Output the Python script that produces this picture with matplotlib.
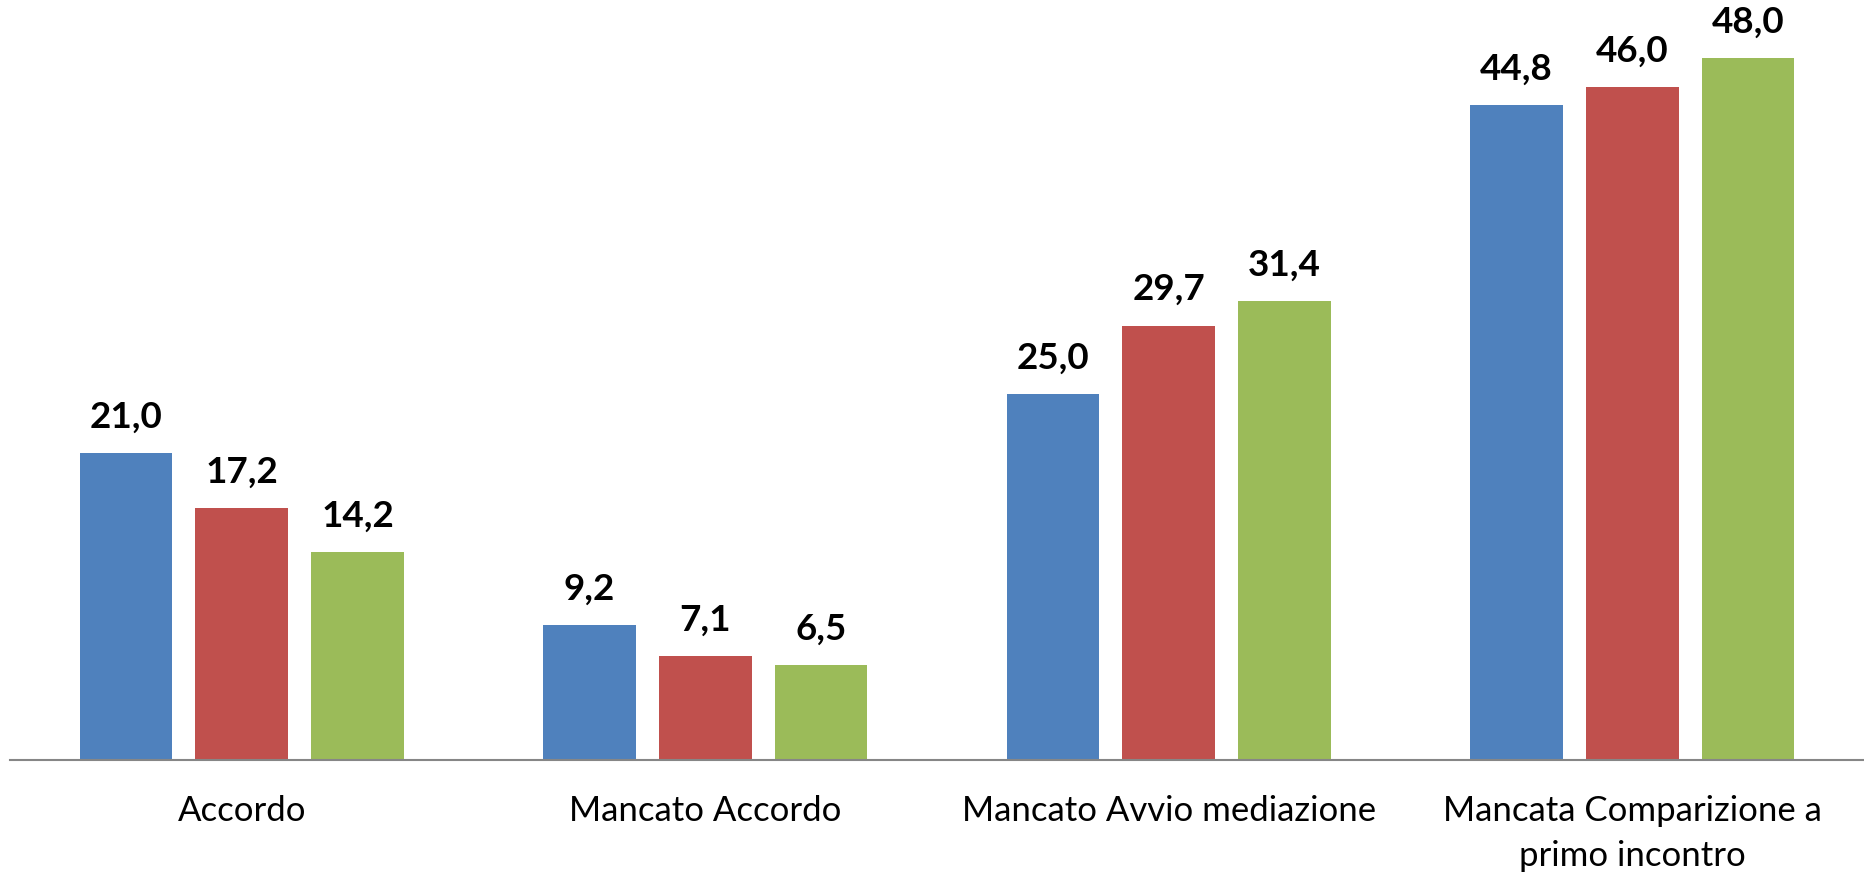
import matplotlib
matplotlib.use("Agg")
import matplotlib.pyplot as plt
import numpy as np

plt.rcParams['font.family'] = ['Lato', 'DejaVu Sans']

# categories and values (three series)
categories = ["Accordo", "Mancato Accordo", "Mancato Avvio mediazione",
              "Mancata Comparizione a\nprimo incontro"]
serie_1 = [21.0, 9.2, 25.0, 44.8]
serie_2 = [17.2, 7.1, 29.7, 46.0]
serie_3 = [14.2, 6.5, 31.4, 48.0]

colors = ["#4F81BD", "#C0504D", "#9BBB59"]

fig = plt.figure(figsize=(18.64, 8.72), dpi=100)
ax = fig.add_axes([10 / 1864, 112 / 872, 1854 / 1864, 731.25 / 872])

x = np.arange(len(categories))
width = 0.2
offsets = [-0.25, 0, 0.25]

for series, off, col in zip([serie_1, serie_2, serie_3], offsets, colors):
    bars = ax.bar(x + off, series, width, color=col, zorder=2)
    for b, v in zip(bars, series):
        ax.annotate(f"{v:.1f}".replace(".", ","),
                    (b.get_x() + b.get_width() / 2, v),
                    xytext=(0, 14), textcoords="offset points",
                    ha="center", va="bottom", fontsize=26.5, fontweight="bold")

ax.set_xlim(-0.5, 3.5)
ax.set_ylim(0, 50)
ax.set_xticks(x)
ax.set_xticklabels(categories, fontsize=25, linespacing=1.5)
ax.tick_params(axis="x", length=0, pad=25)
ax.set_yticks([])

for s in ["top", "right", "left"]:
    ax.spines[s].set_visible(False)
ax.spines["bottom"].set_color("#868686")
ax.spines["bottom"].set_linewidth(1.5)

fig.savefig("out.png", dpi=100)
